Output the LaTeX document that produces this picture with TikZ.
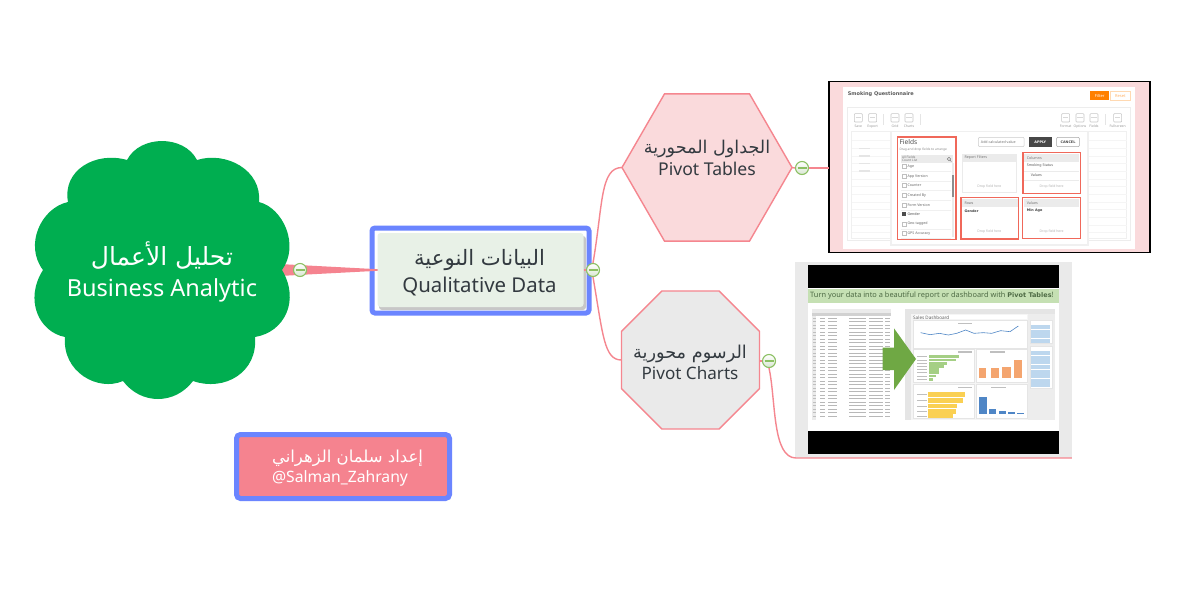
\documentclass[tikz,border=0pt]{standalone}
\usepackage{fontspec}
\usetikzlibrary{shapes.geometric,calc}
\setmainfont{Noto Sans}
\newfontfamily\arabicfont[Script=Arabic]{DejaVu Sans}
\newfontfamily\boldfam{DejaVu Sans}
\TeXXeTstate=1
\newcommand\ARsize[1]{\fontsize{#1}{#1}\selectfont\arabicfont}
\definecolor{pinkline}{HTML}{F5868F}
\definecolor{pinkfill}{HTML}{F5838F}
\definecolor{bluebd}{HTML}{6B85FF}
\definecolor{cloudgreen}{HTML}{00AE50}
\definecolor{inktext}{HTML}{333A40}
\definecolor{markgreen}{HTML}{8CC063}
\definecolor{markfill}{HTML}{D8E6D2}
\definecolor{qualfill}{HTML}{E8F1E7}
\definecolor{hexfill}{HTML}{FADADC}
\definecolor{octfill}{HTML}{EAEAEA}
\definecolor{redbox}{HTML}{F0685A}
\definecolor{bandgreen}{HTML}{C5E0B3}
\definecolor{bandtext}{HTML}{4E6B45}
\definecolor{arrowgreen}{HTML}{6FA844}
\definecolor{barblue}{HTML}{4F86C6}
\definecolor{barorange}{HTML}{F4A56F}
\definecolor{baryellow}{HTML}{FAD053}
\definecolor{bargreen}{HTML}{A5CF85}
\definecolor{slicerblue}{HTML}{BDD7EE}
\tikzset{
  conn/.style={draw=pinkline,line width=1.4pt},
  minusmark/.style={circle,draw=markgreen,line width=1.1pt,minimum size=13pt,inner sep=0pt,
    top color=white,bottom color=markfill,
    path picture={\draw[markgreen,line width=1.1pt]
      ([xshift=-4.5pt]path picture bounding box.center)--([xshift=4.5pt]path picture bounding box.center);}},
  shapetext/.style={align=center,text=inktext,inner sep=0pt},
  smalltxt/.style={inner sep=0pt,text=black!55,font=\fontsize{4}{5}\selectfont},
  smalll/.style={smalltxt,anchor=west},
  redframe/.style={draw=redbox,line width=1.1pt},
  graybox/.style={draw=black!8,line width=.5pt,fill=white},
  hdrfill/.style={fill=black!8},
  dashpanel/.style={fill=white,draw=black!10,line width=.3pt},
  cellbar/.style={black!28,line width=1.1pt},
}
\begin{document}
\begin{tikzpicture}[x=1pt,y=-1pt]
\useasboundingbox (0,0) rectangle (1200,589);
\fill[white] (0,0) rectangle (1200,589);

% ---------- main nodes
\coordinate (cloudR) at (279,270);
\node[draw=bluebd,line width=5pt,rounded corners=3pt,minimum width=217pt,minimum height=85pt,inner sep=0pt,outer sep=0pt,fill=white] (central) at (480.5,270.5) {};
\fill[black!22,rounded corners=3pt] (379,236) rectangle (586,310);
\node[fill=qualfill,rounded corners=3pt,minimum width=206pt,minimum height=74pt,inner sep=0pt,outer sep=0pt] (inner) at (480.5,270) {};
\node[shapetext,font=\fontsize{20.4}{27}\selectfont] (qualtext) at (479.5,273) {{\ARsize{21.2}\beginR البيانات النوعية\endR}\\Qualitative Data};

% wedge from cloud to central
\fill[pinkfill] ([yshift=-6pt]cloudR) -- ([yshift=-.8pt]inner.west) -- ([yshift=.8pt]inner.west) -- ([yshift=6pt]cloudR) -- cycle;

% cloud
\fill[cloudgreen] (127,160)
  .. controls (140,134.7) and (184,134.7) .. (197,160)
  .. controls (226,151) and (262,170) .. (259,202)
  .. controls (283,208) and (300,245) .. (282,270)
  .. controls (300,300) and (285,332) .. (255,337)
  .. controls (258,372) and (225,392) .. (193,381)
  .. controls (175,405) and (141,405) .. (123,381)
  .. controls (98,392) and (62,372) .. (65,337)
  .. controls (39,332) and (24,300) .. (43,270)
  .. controls (24,245) and (41,208) .. (68,202)
  .. controls (62,170) and (96,151) .. (127,160) -- cycle;
\node[shapetext,text=white,font=\fontsize{23.5}{31}\selectfont] (cloud) at (162,272) {{\ARsize{25}\beginR تحليل الأعمال\endR}\\Business Analytic};

% hexagon, octagon
\node[regular polygon,regular polygon sides=6,minimum size=170pt,inner sep=0pt,outer sep=0pt,draw=pinkline,line width=1.4pt,fill=hexfill] (hex) at (707,167.5) {};
\node[shapetext,font=\fontsize{17.6}{22}\selectfont] (hextext) at (707,158) {{\ARsize{17.6}\beginR الجداول المحورية\endR}\\Pivot Tables};
\node[regular polygon,regular polygon sides=8,minimum size=149.4pt,inner sep=0pt,outer sep=0pt,draw=pinkline,line width=1.4pt,fill=octfill] (oct) at (690.5,360) {};
\node[shapetext,font=\fontsize{17.1}{21}\selectfont] (octtext) at (690,362) {{\ARsize{17.7}\beginR الرسوم محورية\endR}\\Pivot Charts};

% author
\node[draw=bluebd,line width=5pt,rounded corners=4pt,fill=pinkfill,minimum width=213pt,minimum height=64pt,inner sep=0pt] (author) at (343,466.5) {};
\node[align=center,inner sep=0pt,text=white,font=\fontsize{15.7}{20}\selectfont] (authortext) at (342,468) {\hspace*{11pt}{\ARsize{16.5}\beginR إعداد سلمان الزهراني\endR}\\\hspace*{-4pt}@Salman\_Zahrany};

% ---------- picture 1 frame (zoom coordinates)
\node[draw=black,line width=1.6pt,fill=hexfill,minimum width=321pt,minimum height=171pt,inner sep=0pt,outer sep=0pt] (pic1) at (989.5,167) {};
\begin{scope}[shift={(820,75)},x=.33333pt,y=-.33333pt]
  \fill[white] (70,35) rectangle (945,522);
  \node[smalll,font=\boldfam\bfseries\fontsize{5}{6}\selectfont,text=black!65] (t1) at (83,58) {Smoking Questionnaire};
  \fill[orange] (811,48) rectangle (867,76);
  \node[smalltxt,text=white] (t2) at (839,62) {Filter};
  \draw[orange!30,line width=.6pt,fill=white] (871,50) rectangle (932,76);
  \node[smalltxt,text=orange!60] (t3) at (901,62) {Reset};
  \draw[black!7,line width=.5pt] (82,97) rectangle (932,495);
  \foreach \x/\l in {115/Save,158/Export,225/Grid,267/Charts,737/Format,780/Options,822/Fields,893/Fullscreen}{
    \draw[black!22,line width=.6pt,rounded corners=.8pt] (\x-12,116) rectangle (\x+12,141);
    \draw[black!15,line width=.5pt] (\x-8,128) -- (\x+8,128);
    \node[smalltxt,text=black!40,font=\fontsize{3.4}{4}\selectfont] at (\x,155) {\l};
  }
  \foreach \x in {190,302,857}{\draw[black!10,line width=.5pt] (\x,118) -- (\x,150);}
  % faint grid behind the dialog
  \draw[black!6,line width=.4pt] (95,170) rectangle (920,490);
  \foreach \y in {195,220,243,265,288,311,334,357,380,403,426,449,472}{\draw[black!4,line width=.3pt] (95,\y) -- (215,\y) (800,\y) -- (920,\y);}
  \foreach \y in {220,243,265,288}{\fill[black!10] (116,\y-2) rectangle (150,\y+2);}
  % dialog
  \fill[black!6] (211,170) rectangle (806,512);
  \fill[white] (215,170) rectangle (800,508);
  % fields
  \draw[redframe] (232,186) rectangle (408,493);
  \node[smalll,font=\fontsize{6.6}{7}\selectfont,text=black!70] (t4) at (238,201) {Fields};
  \node[smalll,font=\fontsize{3.2}{4}\selectfont,text=black!45] (t5) at (238,225) {Drag and drop fields to arrange};
  \fill[hdrfill] (243,240) rectangle (400,265);
  \node[smalll,font=\fontsize{3.2}{4}\selectfont] (t6) at (246,247) {All Fields};
  \node[smalll,font=\fontsize{3.2}{4}\selectfont] (t6b) at (246,257) {Count List};
  \draw[black!50,line width=.5pt] (387,252) circle (5) (391,256) -- (394,260);
  \foreach \y/\l in {275/Age,304/App Version,332/Counter,361/Created By,390/Form Version,447/Geo-tagged,475/GPS Accuracy}{
    \draw[black!25,line width=.5pt] (246,\y-6) rectangle (258,\y+6);
    \node[smalll,text=black!60,font=\fontsize{3.6}{4}\selectfont] at (262,\y) {\l};
    \draw[black!6,line width=.3pt] (243,\y+14) -- (392,\y+14);
  }
  \fill[black!70] (246,412) rectangle (258,424);
  \node[smalll,text=black!70,font=\fontsize{3.6}{4}\selectfont] (t7) at (262,418) {Gender};
  \fill[black!8] (395,265) rectangle (403,485);
  \fill[black!45] (395,300) rectangle (403,365);
  % buttons
  \draw[black!20,line width=.5pt,rounded corners=1pt] (475,187) rectangle (612,215);
  \node[smalltxt,font=\fontsize{3.6}{4}\selectfont] (t8) at (535,201) {Add calculated value};
  \fill[black!72] (628,187) rectangle (695,215);
  \node[smalltxt,text=white,font=\boldfam\bfseries\fontsize{3.4}{4}\selectfont] (t9) at (661,201) {APPLY};
  \draw[black!35,line width=.6pt,rounded corners=1pt] (710,187) rectangle (778,215);
  \node[smalltxt,text=black!70,font=\boldfam\bfseries\fontsize{3.4}{4}\selectfont] (t10) at (744,201) {CANCEL};
  % report filters
  \draw[graybox] (427,238) rectangle (590,352);
  \fill[hdrfill] (427,238) rectangle (590,260);
  \node[smalll,font=\fontsize{3.6}{4}\selectfont] (t11) at (433,249) {Report Filters};
  \node[smalltxt,text=black!30,font=\fontsize{3.4}{4}\selectfont] (t12) at (508,336) {Drop field here};
  % columns
  \fill[hdrfill] (612,238) rectangle (778,260);
  \draw[redframe] (609,233) rectangle (781,355);
  \node[smalll,font=\fontsize{3.6}{4}\selectfont] (t13) at (620,249) {Columns};
  \node[smalll,text=black!65,font=\fontsize{3.6}{4}\selectfont] (t14) at (620,273) {Smoking Status};
  \node[smalll,text=black!65,font=\fontsize{3.6}{4}\selectfont] (t15) at (632,301) {Values};
  \draw[black!8,line width=.3pt] (612,287) -- (778,287) (612,315) -- (778,315);
  \node[smalltxt,text=black!30,font=\fontsize{3.4}{4}\selectfont] (t16) at (695,336) {Drop field here};
  % rows
  \fill[hdrfill] (426,372) rectangle (593,395);
  \draw[redframe] (423,367) rectangle (596,492);
  \node[smalll,font=\fontsize{3.6}{4}\selectfont] (t17) at (433,384) {Rows};
  \node[smalll,text=black!75,font=\boldfam\bfseries\fontsize{3.4}{4}\selectfont] (t18) at (433,408) {Gender};
  \node[smalltxt,text=black!30,font=\fontsize{3.4}{4}\selectfont] (t19) at (508,470) {Drop field here};
  % values
  \fill[hdrfill] (611,372) rectangle (778,395);
  \draw[redframe] (608,367) rectangle (781,490);
  \node[smalll,font=\fontsize{3.6}{4}\selectfont] (t20) at (620,384) {Values};
  \node[smalll,text=black!75,font=\boldfam\bfseries\fontsize{3.4}{4}\selectfont] (t21) at (620,408) {Min Age};
  \node[smalltxt,text=black!30,font=\fontsize{3.4}{4}\selectfont] (t22) at (695,470) {Drop field here};
\end{scope}

% ---------- picture 2 (zoom coordinates)
\node[fill=octfill,minimum width=276.5pt,minimum height=196pt,inner sep=0pt,outer sep=0pt] (pic2) at (933.5,360) {};
\begin{scope}[shift={(790,255)},x=.33333pt,y=-.33333pt]
  \fill[white] (53,30) rectangle (807,598);
  \fill[black] (53,30) rectangle (807,100);
  \fill[black] (53,527) rectangle (807,598);
  \fill[bandgreen] (53,103) rectangle (807,143);
  \node[inner sep=0pt,anchor=west,text=bandtext,font=\fontsize{7.4}{9}\selectfont] (band) at (60,122) {Turn your data into a beautiful report or dashboard with {\boldfam\bfseries\fontsize{6.5}{9}\selectfont Pivot Tables}!};
  % spreadsheet
  \fill[black!8] (65,163) rectangle (302,495);
  \fill[white] (78,175) rectangle (302,495);
  \fill[black!18] (65,175) rectangle (302,183);
  \foreach \i in {0,...,28}{
    \pgfmathsetmacro\yy{190+\i*10.5}
    \draw[black!25,line width=.8pt] (70,\yy) -- (77,\yy);
    \draw[cellbar] (90,\yy) -- (104,\yy) (114,\yy) -- (140,\yy) (178,\yy) -- (228,\yy) (238,\yy) -- (278,\yy) (285,\yy) -- (300,\yy);
  }
  % dashboard background
  \fill[black!10] (345,163) rectangle (795,495);
  \fill[black!4] (362,178) rectangle (715,495);
  \fill[black!7] (715,178) rectangle (795,495);
  \fill[white] (368,180) rectangle (710,193);
  \node[inner sep=0pt,anchor=west,text=black!65,font=\fontsize{4.6}{5}\selectfont] (sd) at (369,187) {Sales Dashboard};
  \draw[dashpanel] (368,195) rectangle (710,278);
  \draw[dashpanel] (368,282) rectangle (553,382);
  \draw[dashpanel] (558,282) rectangle (710,382);
  \draw[dashpanel] (368,386) rectangle (553,490);
  \draw[dashpanel] (558,386) rectangle (710,490);
  % slicers
  \draw[dashpanel] (720,195) rectangle (785,265);
  \draw[dashpanel] (720,272) rectangle (785,398);
  \foreach \y in {210,224,238,252}{\fill[slicerblue] (724,\y) rectangle (781,\y+12);}
  \foreach \y in {288,302,316,330,344,358,372,385}{\fill[slicerblue] (724,\y) rectangle (781,\y+12);}
  % charts
  \begin{scope}[shift={(330,135)}]
    \draw[barblue,line width=.6pt] (62,98) -- (90,104) -- (118,100) -- (145,105) -- (170,100) -- (197,90) -- (222,100) -- (250,98) -- (275,100) -- (302,92) -- (330,95) -- (355,78);
    \foreach \y/\x in {170/178,180/168,190/140,200/132,209/118,218/116,228/108,238/100}{\fill[bargreen] (88,\y-4) rectangle (\x,\y+4);}
    \foreach \a/\b/\t in {238/258/205,272/298/205,307/332/202,342/366/180}{\fill[barorange] (\a,\t) rectangle (\b,235);}
    \foreach \y/\x in {284/195,302/190,318/172,334/168,348/160}{\fill[baryellow] (85,\y-7) rectangle (\x,\y+7);}
    \foreach \a/\b/\t in {238/260/290,267/288/328,298/318/333,324/345/336,352/372/339}{\fill[barblue] (\a,\t) rectangle (\b,341);}
    \foreach \y in {348,334,318,302,284,238,228,218,209,200,190,180,170}{\fill[black!25] (52,\y-1.5) rectangle (82,\y+1.5);}
    \foreach \x/\y in {195/70,195/156,293/156,195/262,295/262}{\fill[black!25] (\x-22,\y-2) rectangle (\x+22,\y+2);}
  \end{scope}
  % arrow
  \fill[arrowgreen] (278,278) -- (312,278) -- (312,220) -- (378,312) -- (312,405) -- (312,345) -- (278,345) -- cycle;
\end{scope}

% ---------- markers and connectors
\node[minusmark] (m0) at (300,270) {};
\node[minusmark] (m1) at (593,270) {};
\node[minusmark] (m2) at (802,168) {};
\node[minusmark] (m3) at (769,361) {};
\draw[conn] (inner.east) -- (m1.west);
\draw[conn] (m1.north) .. controls (603,205) and (600,167.5) .. (hex.west);
\draw[conn] (m1.south) .. controls (603,335) and (604,360) .. (oct.west);
\draw[conn] (hex.east) -- (m2.west);
\draw[conn] (m2.east) -- (pic1.west |- m2.east);
\draw[conn] (oct.east |- m3.west) -- (m3.west);
\draw[conn] (m3.south) .. controls (776,400) and (772,458) .. (796,458) -- (pic2.south east);
\end{tikzpicture}
\end{document}
